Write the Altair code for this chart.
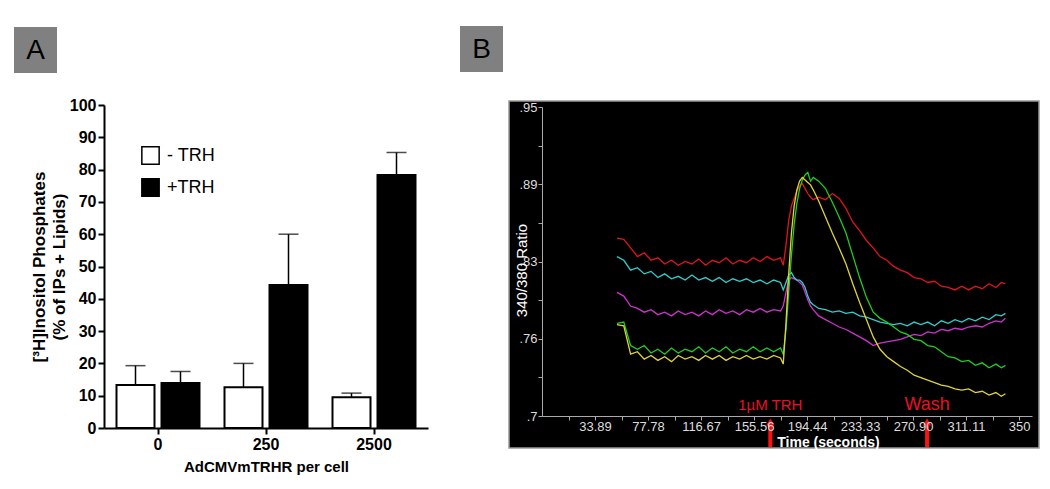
import altair as alt
import pandas as pd

# ---------------- Panel A data ----------------
doses = ["0", "250", "2500"]
groups = ["- TRH", "+TRH"]
minus_trh = [13.3, 12.6, 9.5]
minus_err = [6.0, 7.4, 1.3]
plus_trh = [13.9, 44.3, 78.3]
plus_err = [3.6, 15.7, 7.0]
a_ticks = [0, 10, 20, 30, 40, 50, 60, 70, 80, 90, 100]

# ---------------- Panel B data ----------------
times = [55, 60, 65, 70, 75, 80, 85, 90, 95, 100, 105, 110, 115, 120, 125, 130, 135, 140, 145, 150,
         155, 160, 165, 170, 175,
         177, 179, 181, 183, 185, 187, 189, 191, 193, 195, 197, 199,
         203, 208, 213, 218, 223, 228, 233, 238, 243, 248, 253, 258, 263, 268, 273, 278, 283, 288,
         293, 298, 303, 308, 313, 318, 323, 328, 333, 337, 340]
red = [0.844, 0.843, 0.836, 0.829, 0.832, 0.826, 0.828, 0.823, 0.826, 0.822, 0.825, 0.823, 0.827, 0.822,
       0.826, 0.824, 0.828, 0.823, 0.826, 0.824, 0.828, 0.825, 0.829, 0.826, 0.828,
       0.822, 0.838, 0.858, 0.870, 0.876, 0.882, 0.886, 0.888, 0.884, 0.880, 0.877, 0.875,
       0.877, 0.875, 0.880, 0.876, 0.868, 0.857, 0.850, 0.842, 0.836, 0.829, 0.826, 0.821, 0.818, 0.816,
       0.812, 0.811, 0.808, 0.809, 0.805, 0.804, 0.802, 0.805, 0.802, 0.805, 0.803, 0.807, 0.804, 0.808, 0.807]
cyan = [0.829, 0.826, 0.818, 0.820, 0.815, 0.817, 0.812, 0.815, 0.811, 0.813, 0.810, 0.814, 0.810, 0.812,
        0.809, 0.812, 0.808, 0.811, 0.809, 0.811, 0.808, 0.810, 0.807, 0.810, 0.808,
        0.802, 0.808, 0.814, 0.816, 0.812, 0.810, 0.810, 0.808, 0.804, 0.797, 0.792, 0.790,
        0.787, 0.786, 0.784, 0.785, 0.783, 0.784, 0.781, 0.780, 0.778, 0.776, 0.775, 0.774, 0.775, 0.773,
        0.776, 0.774, 0.776, 0.773, 0.777, 0.775, 0.778, 0.776, 0.779, 0.777, 0.780, 0.778, 0.782, 0.781, 0.783]
magenta = [0.800, 0.797, 0.789, 0.787, 0.784, 0.786, 0.782, 0.784, 0.781, 0.785, 0.782, 0.784, 0.781, 0.785,
           0.782, 0.786, 0.783, 0.785, 0.782, 0.786, 0.784, 0.787, 0.784, 0.786, 0.785,
           0.789, 0.800, 0.810, 0.812, 0.811, 0.810, 0.808, 0.806, 0.800, 0.794, 0.789, 0.786,
           0.781, 0.778, 0.775, 0.772, 0.770, 0.767, 0.764, 0.761, 0.757, 0.759, 0.760, 0.761, 0.762, 0.764,
           0.766, 0.765, 0.768, 0.767, 0.770, 0.769, 0.771, 0.770, 0.772, 0.773, 0.772, 0.775, 0.777, 0.776, 0.779]
green = [0.775, 0.776, 0.757, 0.754, 0.757, 0.751, 0.754, 0.750, 0.755, 0.751, 0.754, 0.752, 0.756, 0.751,
         0.755, 0.752, 0.756, 0.751, 0.754, 0.752, 0.756, 0.752, 0.755, 0.752, 0.755,
         0.750, 0.770, 0.800, 0.830, 0.855, 0.872, 0.884, 0.891, 0.895, 0.897, 0.890, 0.893,
         0.890, 0.884, 0.873, 0.861, 0.848, 0.830, 0.812, 0.796, 0.784, 0.779, 0.776, 0.772, 0.768, 0.766,
         0.762, 0.761, 0.757, 0.756, 0.752, 0.748, 0.747, 0.744, 0.745, 0.741, 0.743, 0.739, 0.742, 0.739, 0.741]
yellow = [0.774, 0.773, 0.750, 0.752, 0.746, 0.749, 0.745, 0.748, 0.744, 0.749, 0.746, 0.748, 0.745, 0.749,
          0.746, 0.749, 0.745, 0.748, 0.746, 0.749, 0.746, 0.748, 0.746, 0.749, 0.747,
          0.742, 0.775, 0.815, 0.848, 0.870, 0.883, 0.890, 0.893, 0.891, 0.889, 0.887, 0.883,
          0.874, 0.861, 0.848, 0.836, 0.823, 0.807, 0.792, 0.778, 0.764, 0.754, 0.748, 0.744, 0.740, 0.737,
          0.733, 0.731, 0.729, 0.727, 0.725, 0.724, 0.722, 0.721, 0.722, 0.719, 0.720, 0.717, 0.719, 0.716, 0.718]
series_names = ["cell 1", "cell 2", "cell 3", "cell 4", "cell 5"]
series_colors = ["#e0141e", "#cc33cc", "#33cccc", "#22cc22", "#e0d23c"]
x_tick_labels = ["33.89", "77.78", "116.67", "155.56", "194.44", "233.33", "270.90", "311.11", "350"]
y_tick_labels = [".7", ".76", ".83", ".89", ".95"]
event_times = [167.5, 282.5]
event_labels = ["1µM TRH", "Wash"]
event_sizes = [15, 18]

FONT = "Liberation Sans"
RED = "#e8102a"

# ---------------- tables ----------------
bars = pd.DataFrame({
    "dose": doses * 2,
    "group": [groups[0]] * 3 + [groups[1]] * 3,
    "value": minus_trh + plus_trh,
    "err": minus_err + plus_err,
})
bars["top"] = bars["value"] + bars["err"]

traces = pd.concat([
    pd.DataFrame({"time": times, "ratio": vals, "cell": name})
    for name, vals in zip(series_names, [red, magenta, cyan, green, yellow])
], ignore_index=True)
events = pd.DataFrame({"time": event_times, "label": event_labels, "size": event_sizes})
one = pd.DataFrame({"k": [0]})

# ---------------- Panel A encodings ----------------
xA_scale = alt.Scale(domain=doses, range=[96, 420], paddingInner=0, paddingOuter=0)
yA_scale = alt.Scale(domain=[0, 100], range=[420, 97], nice=False, zero=True)
off_scale = alt.Scale(domain=groups, paddingInner=0.1556, paddingOuter=0.2778)

xA_axis = alt.Axis(orient="bottom", offset=-53, labelAngle=0, domainColor="black", domainWidth=2,
                   tickColor="black", tickWidth=2, tickSize=6, labelFont=FONT, labelFontWeight="bold",
                   labelFontSize=16, labelColor="black", labelPadding=2,
                   title="AdCMVmTRHR per cell", titleFont=FONT, titleFontWeight="bold",
                   titleFontSize=15, titleColor="black", titlePadding=7, grid=False, zindex=1)
yA_axis = alt.Axis(orient="left", offset=-96, values=a_ticks, domainColor="black", domainWidth=2,
                   tickColor="black", tickWidth=2, tickSize=6, labelFont=FONT, labelFontWeight="bold",
                   labelFontSize=16, labelColor="black", labelPadding=2,
                   title=["[³H]Inositol Phosphates", "(% of IPs + Lipids)"], titleFont=FONT,
                   titleFontWeight="bold", titleFontSize=17, titleColor="black", titlePadding=1,
                   titleLineHeight=20, grid=False, zindex=1)

bar_layer = alt.Chart(bars).mark_bar(stroke="black", strokeWidth=2).encode(
    x=alt.X("dose:N", sort=doses, scale=xA_scale, axis=xA_axis),
    xOffset=alt.XOffset("group:N", sort=groups, scale=off_scale),
    y=alt.Y("value:Q", scale=yA_scale, axis=yA_axis),
    color=alt.Color("group:N", sort=groups,
                    scale=alt.Scale(domain=groups, range=["white", "black"]),
                    legend=alt.Legend(orient="none", legendX=133, legendY=138, title=None,
                                      symbolType="square", symbolSize=300,
                                      symbolStrokeColor="black", symbolStrokeWidth=1.5,
                                      labelFont=FONT, labelFontSize=18, labelColor="black",
                                      labelOffset=7, rowPadding=7, padding=0)),
)
err_layer = alt.Chart(bars).mark_rule(color="black", strokeWidth=1.5).encode(
    x=alt.X("dose:N", sort=doses, scale=xA_scale, axis=None),
    xOffset=alt.XOffset("group:N", sort=groups, scale=off_scale),
    y=alt.Y("value:Q", scale=yA_scale, axis=None),
    y2="top:Q",
)
cap_layer = alt.Chart(bars).mark_tick(color="black", thickness=1.5, size=20, orient="horizontal").encode(
    x=alt.X("dose:N", sort=doses, scale=xA_scale, axis=None),
    xOffset=alt.XOffset("group:N", sort=groups, scale=off_scale),
    y=alt.Y("top:Q", scale=yA_scale, axis=None),
)

# ---------------- Panel B encodings ----------------
xB_scale = alt.Scale(domain=[0, 359.5], range=[534, 1024], nice=False, zero=False)
yB_scale = alt.Scale(domain=[0.7, 0.95], range=[408, 99], nice=False, zero=False)
half = 350 / 18
xB_values = [round(half * i, 4) for i in range(1, 19)]
yB_values = [round(0.7 + 0.03125 * i, 5) for i in range(9)]
xlab = "[" + ",".join("'" + s + "'" for s in x_tick_labels) + "]"
ylab = "[" + ",".join("'" + s + "'" for s in y_tick_labels) + "]"

xB_axis = alt.Axis(orient="bottom", offset=-65, values=xB_values,
                   labelExpr=f"(round(datum.value/{half}) % 2 == 1) ? '' : {xlab}[round(datum.value/{2*half}) - 1]",
                   labelOverlap=False, domainColor="#aaaaaa", tickColor="#aaaaaa", tickSize=4,
                   labelFont=FONT, labelFontSize=13, labelColor="#dddddd", labelPadding=0,
                   title="Time (seconds)", titleFont=FONT, titleFontWeight="bold", titleFontSize=14,
                   titleColor="white", titleX=820, titleY=26, titleBaseline="middle", grid=False,
                   zindex=1)
yB_axis = alt.Axis(orient="left", offset=-534, values=yB_values,
                   labelExpr=f"(round((datum.value-0.7)/0.03125) % 2 == 1) ? '' : {ylab}[round((datum.value-0.7)/0.0625)]",
                   labelOverlap=False, domainColor="#aaaaaa", tickColor="#aaaaaa", tickSize=4,
                   labelFont=FONT, labelFontSize=13, labelColor="#dddddd", labelPadding=1,
                   title="340/380 Ratio", titleFont=FONT, titleFontSize=15, titleColor="white",
                   titleFontWeight="normal", titleX=-21, titleY=262, titleAngle=270,
                   titleAlign="center", titleBaseline="middle", grid=False, zindex=1)

panel_bg = alt.Chart(one).mark_rect(color="black", stroke="#999999", strokeWidth=1.5).encode(
    x=alt.value(501), x2=alt.value(1031), y=alt.value(93), y2=alt.value(440))

line_layer = alt.Chart(traces).mark_line(strokeWidth=1.3).encode(
    x=alt.X("time:Q", scale=xB_scale, axis=xB_axis),
    y=alt.Y("ratio:Q", scale=yB_scale, axis=yB_axis),
    color=alt.Color("cell:N", sort=series_names,
                    scale=alt.Scale(domain=series_names, range=series_colors), legend=None),
    order="time:Q",
)
event_text = alt.Chart(events).mark_text(color=RED, font=FONT, baseline="middle", align="center").encode(
    x=alt.X("time:Q", scale=xB_scale, axis=None),
    y=alt.value(397),
    text="label:N",
    size=alt.Size("size:Q", scale=None, legend=None),
)
arrow_shaft = alt.Chart(events).mark_rule(color="#ff1010", strokeWidth=4).encode(
    x=alt.X("time:Q", scale=xB_scale, axis=None),
    y=alt.value(415), y2=alt.value(439),
)
arrow_head = alt.Chart(events).mark_point(shape="triangle-up", filled=True, color="#ff1010",
                                          size=70, opacity=1).encode(
    x=alt.X("time:Q", scale=xB_scale, axis=None),
    y=alt.value(414),
)

# ---------------- panel letters ----------------
boxA = alt.Chart(one).mark_rect(color="#808080").encode(
    x=alt.value(6), x2=alt.value(49), y=alt.value(19), y2=alt.value(65))
textA = alt.Chart(one).mark_text(text="A", font=FONT, fontSize=28, color="black",
                                 align="center", baseline="middle").encode(
    x=alt.value(27.5), y=alt.value(43))
boxB = alt.Chart(one).mark_rect(color="#808080").encode(
    x=alt.value(452), x2=alt.value(495), y=alt.value(18), y2=alt.value(64))
textB = alt.Chart(one).mark_text(text="B", font=FONT, fontSize=28, color="black",
                                 align="center", baseline="middle").encode(
    x=alt.value(473.5), y=alt.value(42))

chart = alt.layer(
    boxA, textA, boxB, textB, panel_bg,
    err_layer, cap_layer, bar_layer,
    line_layer, event_text, arrow_shaft, arrow_head,
).resolve_scale(
    x="independent", y="independent", color="independent", size="independent"
).properties(
    width=1034, height=473, autosize=alt.AutoSizeParams(type="none"), padding=0
).configure_view(stroke=None)

chart.save("out.html", embed_options={"renderer": "svg", "actions": False})
